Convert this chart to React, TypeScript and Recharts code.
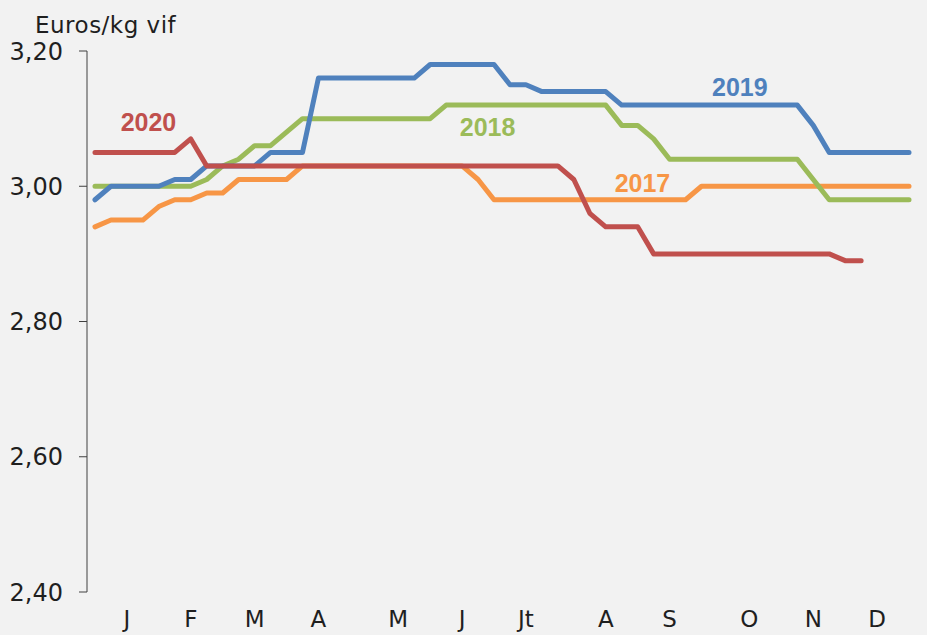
import React from "react";
import {
  LineChart,
  Line,
  XAxis,
  YAxis,
  ReferenceDot,
} from "recharts";

// cotations hebdomadaires (semaines 1 à 52)
const weeks = [
  0, 1, 2, 3, 4, 5, 6, 7, 8, 9, 10, 11, 12, 13, 14, 15, 16, 17, 18, 19, 20, 21,
  22, 23, 24, 25, 26, 27, 28, 29, 30, 31, 32, 33, 34, 35, 36, 37, 38, 39, 40,
  41, 42, 43, 44, 45, 46, 47, 48, 49, 50, 51,
];

const prix2017 = [
  2.94, 2.95, 2.95, 2.95, 2.97, 2.98, 2.98, 2.99, 2.99, 3.01, 3.01, 3.01, 3.01,
  3.03, 3.03, 3.03, 3.03, 3.03, 3.03, 3.03, 3.03, 3.03, 3.03, 3.03, 3.01, 2.98,
  2.98, 2.98, 2.98, 2.98, 2.98, 2.98, 2.98, 2.98, 2.98, 2.98, 2.98, 2.98, 3.0,
  3.0, 3.0, 3.0, 3.0, 3.0, 3.0, 3.0, 3.0, 3.0, 3.0, 3.0, 3.0, 3.0,
];

const prix2018 = [
  3.0, 3.0, 3.0, 3.0, 3.0, 3.0, 3.0, 3.01, 3.03, 3.04, 3.06, 3.06, 3.08, 3.1,
  3.1, 3.1, 3.1, 3.1, 3.1, 3.1, 3.1, 3.1, 3.12, 3.12, 3.12, 3.12, 3.12, 3.12,
  3.12, 3.12, 3.12, 3.12, 3.12, 3.09, 3.09, 3.07, 3.04, 3.04, 3.04, 3.04, 3.04,
  3.04, 3.04, 3.04, 3.04, 3.01, 2.98, 2.98, 2.98, 2.98, 2.98, 2.98,
];

const prix2019 = [
  2.98, 3.0, 3.0, 3.0, 3.0, 3.01, 3.01, 3.03, 3.03, 3.03, 3.03, 3.05, 3.05,
  3.05, 3.16, 3.16, 3.16, 3.16, 3.16, 3.16, 3.16, 3.18, 3.18, 3.18, 3.18, 3.18,
  3.15, 3.15, 3.14, 3.14, 3.14, 3.14, 3.14, 3.12, 3.12, 3.12, 3.12, 3.12, 3.12,
  3.12, 3.12, 3.12, 3.12, 3.12, 3.12, 3.09, 3.05, 3.05, 3.05, 3.05, 3.05, 3.05,
];

const prix2020 = [
  3.05, 3.05, 3.05, 3.05, 3.05, 3.05, 3.07, 3.03, 3.03, 3.03, 3.03, 3.03, 3.03,
  3.03, 3.03, 3.03, 3.03, 3.03, 3.03, 3.03, 3.03, 3.03, 3.03, 3.03, 3.03, 3.03,
  3.03, 3.03, 3.03, 3.03, 3.01, 2.96, 2.94, 2.94, 2.94, 2.9, 2.9, 2.9, 2.9, 2.9,
  2.9, 2.9, 2.9, 2.9, 2.9, 2.9, 2.9, 2.89, 2.89, null, null, null,
];

const monthLabels = ["J", "F", "M", "A", "M", "J", "Jt", "A", "S", "O", "N", "D"];
const monthLabelWeeks = [2, 6, 10, 14, 19, 23, 27, 32, 36, 41, 45, 49];
const monthTickWeeks = [-0.5, 4, 8.5, 13, 17.5, 22, 26.5, 31, 35.5, 40, 44.5, 49];
const yTicks = [2.4, 2.6, 2.8, 3.0, 3.2];

// étiquettes des séries (position en semaine / prix)
const seriesLabels = [
  { text: "2020", week: 3.35, value: 3.095, color: "#C0504D" },
  { text: "2019", week: 40.4, value: 3.147, color: "#4F81BD" },
  { text: "2018", week: 24.6, value: 3.087, color: "#9BBB59" },
  { text: "2017", week: 34.3, value: 3.005, color: "#F79646" },
];

const chartData = weeks.map((w, i) => ({
  w,
  y2017: prix2017[i],
  y2018: prix2018[i],
  y2019: prix2019[i],
  y2020: prix2020[i],
}));

const axisFont = "DejaVu Sans, sans-serif";

export default function App() {
  return (
    <div
      style={{
        position: "absolute",
        left: 0,
        top: 0,
        width: 927,
        height: 635,
        background: "#F2F2F2",
        overflow: "hidden",
      }}
    >
      <div
        style={{
          position: "absolute",
          left: 35,
          top: 14,
          fontFamily: axisFont,
          fontSize: 23,
          lineHeight: "23px",
          letterSpacing: 0.5,
          color: "#1f1f1f",
          whiteSpace: "nowrap",
        }}
      >
        Euros/kg vif
      </div>
      <LineChart
        width={927}
        height={635}
        data={chartData}
        margin={{ top: 51, right: 10, bottom: 0, left: 0 }}
      >
        <XAxis
          xAxisId="weeks"
          dataKey="w"
          type="number"
          domain={[-0.5, 51.5]}
          ticks={monthTickWeeks}
          interval={0}
          height={0}
          tickSize={7}
          tickFormatter={() => ""}
          stroke="#404040"
          allowDataOverflow
        />
        <XAxis
          xAxisId="months"
          dataKey="w"
          type="number"
          domain={[-0.5, 51.5]}
          ticks={monthLabelWeeks}
          interval={0}
          height={43}
          axisLine={false}
          tickLine={false}
          tickSize={0}
          tickMargin={19}
          tickFormatter={(v: number) => monthLabels[monthLabelWeeks.indexOf(v)]}
          tick={{ fill: "#1f1f1f", fontFamily: axisFont, fontSize: 23 }}
          allowDataOverflow
        />
        <YAxis
          domain={[2.4, 3.2]}
          ticks={yTicks}
          interval={0}
          width={87}
          tickSize={8}
          tickMargin={16}
          stroke="#404040"
          tickFormatter={(v: number) => v.toFixed(2).replace(".", ",")}
          tick={{ fill: "#1f1f1f", fontFamily: axisFont, fontSize: 24 }}
          allowDataOverflow
        />
        <Line
          xAxisId="weeks"
          type="linear"
          dataKey="y2017"
          stroke="#F79646"
          strokeWidth={5}
          strokeLinecap="round"
          strokeLinejoin="round"
          dot={false}
          activeDot={false}
          isAnimationActive={false}
        />
        <Line
          xAxisId="weeks"
          type="linear"
          dataKey="y2018"
          stroke="#9BBB59"
          strokeWidth={5}
          strokeLinecap="round"
          strokeLinejoin="round"
          dot={false}
          activeDot={false}
          isAnimationActive={false}
        />
        <Line
          xAxisId="weeks"
          type="linear"
          dataKey="y2019"
          stroke="#4F81BD"
          strokeWidth={5}
          strokeLinecap="round"
          strokeLinejoin="round"
          dot={false}
          activeDot={false}
          isAnimationActive={false}
        />
        <Line
          xAxisId="weeks"
          type="linear"
          dataKey="y2020"
          stroke="#C0504D"
          strokeWidth={5}
          strokeLinecap="round"
          strokeLinejoin="round"
          dot={false}
          activeDot={false}
          isAnimationActive={false}
        />
        {seriesLabels.map((s) => (
          <ReferenceDot
            key={s.text}
            xAxisId="weeks"
            x={s.week}
            y={s.value}
            r={0}
            fill="none"
            stroke="none"
            label={{
              value: s.text,
              position: "center",
              fill: s.color,
              fontFamily: "Liberation Sans, Arial, sans-serif",
              fontWeight: "bold",
              fontSize: 25,
            }}
          />
        ))}
      </LineChart>
    </div>
  );
}
